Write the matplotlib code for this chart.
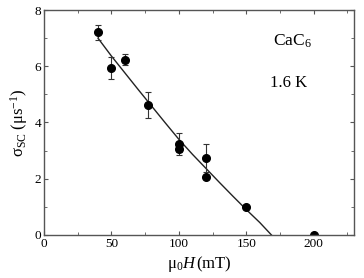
import numpy as np
import matplotlib.pyplot as plt
from matplotlib.ticker import MultipleLocator

plt.rcParams["font.family"] = ["Liberation Serif", "DejaVu Serif"]
plt.rcParams["mathtext.fontset"] = "custom"
plt.rcParams["mathtext.rm"] = "Liberation Serif"
plt.rcParams["mathtext.it"] = "Liberation Serif:italic"

# measured points
field = [40, 50, 60, 77, 100, 100, 120, 120, 150, 200]
sigma = [7.2, 5.93, 6.23, 4.62, 3.23, 3.06, 2.75, 2.06, 0.99, 0.0]
sigma_err = [0.26, 0.39, 0.2, 0.47, 0.38, 0.12, 0.5, 0.0, 0.0, 0.0]

# fit line
fit_field = [40, 50, 60, 70, 80, 90, 100, 110, 120, 130, 140, 150, 160, 168.6]
fit_sigma = [7.0, 6.36, 5.76, 5.16, 4.57, 3.98, 3.4, 2.87, 2.37, 1.87, 1.38, 0.9, 0.44, 0.0]

fig = plt.figure(figsize=(3.64, 2.78), dpi=100)
ax = fig.add_axes([0.121, 0.155, 0.852, 0.809])

ax.plot(fit_field, fit_sigma, color="#222222", linewidth=1.0)
ax.errorbar(field, sigma, yerr=sigma_err, fmt="o", color="black", markersize=5.5,
            ecolor="#333333", elinewidth=0.8, capsize=2, capthick=0.8)

ax.set_xlim(0, 230)
ax.set_ylim(0, 8)
ax.xaxis.set_major_locator(MultipleLocator(50))
ax.xaxis.set_minor_locator(MultipleLocator(25))
ax.yaxis.set_major_locator(MultipleLocator(2))
ax.yaxis.set_minor_locator(MultipleLocator(1))
ax.tick_params(which="both", direction="in", top=True, right=True, labelsize=9.5,
               color="#555555", pad=2)
ax.tick_params(which="major", length=3)
ax.tick_params(which="minor", length=2)
for s in ax.spines.values():
    s.set_color("#555555")
    s.set_linewidth(1.0)

ax.set_xlabel(r"$\mathrm{\mu_0}\mathit{H}\,\mathrm{(mT)}$", fontsize=12, labelpad=3)
ax.set_ylabel(r"$\mathrm{\sigma_{SC}\ (\mu s^{-1})}$", fontsize=12, labelpad=3)

ax.text(0.80, 0.86, r"$\mathrm{CaC_6}$", transform=ax.transAxes, fontsize=12.5,
        ha="center", va="center")
ax.text(0.79, 0.675, "1.6 K", transform=ax.transAxes, fontsize=12,
        ha="center", va="center")

plt.savefig("out.png", dpi=100)
